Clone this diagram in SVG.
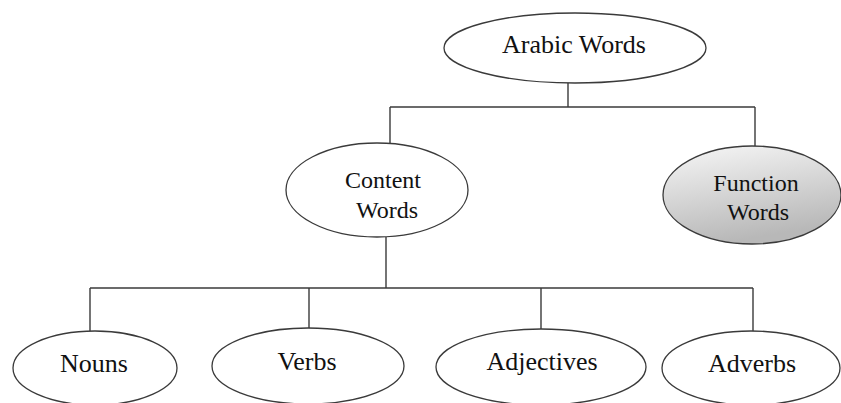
<svg xmlns="http://www.w3.org/2000/svg" width="841" height="403" viewBox="0 0 841 403">
  <style>
    .node ellipse { fill: #ffffff; stroke: #3a3a3a; stroke-width: 1.3; }
    .node text { font-family: "Liberation Serif", "Times New Roman", serif; fill: #111111; text-anchor: middle; }
    .big { font-size: 26px; }
    .mid { font-size: 24px; }
    .connectors line { stroke: #3a3a3a; stroke-width: 1.4; fill: none; }
  </style>
  <defs>
    <linearGradient id="grayFill" x1="0" y1="0" x2="0.3" y2="1">
      <stop offset="0" stop-color="#f7f7f7"/>
      <stop offset="1" stop-color="#b8b8b8"/>
    </linearGradient>
  </defs>
  <rect width="841" height="403" fill="#ffffff"/>

  <g class="connectors">
    <line x1="568" y1="83" x2="568" y2="107"/>
    <line x1="390" y1="107" x2="755" y2="107"/>
    <line x1="390" y1="107" x2="390" y2="144"/>
    <line x1="755" y1="107" x2="755" y2="146"/>
    <line x1="386" y1="237" x2="386" y2="288"/>
    <line x1="90" y1="288" x2="753" y2="288"/>
    <line x1="90" y1="288" x2="90" y2="331"/>
    <line x1="309" y1="288" x2="309" y2="328"/>
    <line x1="541" y1="288" x2="541" y2="329"/>
    <line x1="753" y1="288" x2="753" y2="331"/>
  </g>

  <g id="arabic-words" class="node">
    <ellipse cx="575" cy="48" rx="131" ry="35"/>
    <text class="big" x="574" y="53">Arabic Words</text>
  </g>

  <g id="content-words" class="node">
    <ellipse cx="377" cy="190" rx="91" ry="47"/>
    <text class="mid" x="383" y="188">Content</text>
    <text class="mid" x="387" y="218">Words</text>
  </g>

  <g id="function-words" class="node">
    <ellipse cx="752" cy="195" rx="89" ry="49" style="fill:url(#grayFill)"/>
    <text class="mid" x="756" y="191">Function</text>
    <text class="mid" x="758" y="220">Words</text>
  </g>

  <g id="nouns" class="node">
    <ellipse cx="95" cy="368" rx="82" ry="37"/>
    <text class="big" x="94" y="372">Nouns</text>
  </g>

  <g id="verbs" class="node">
    <ellipse cx="308" cy="366" rx="96" ry="38"/>
    <text class="big" x="307" y="370">Verbs</text>
  </g>

  <g id="adjectives" class="node">
    <ellipse cx="541" cy="367" rx="105" ry="38"/>
    <text class="big" x="542" y="370">Adjectives</text>
  </g>

  <g id="adverbs" class="node">
    <ellipse cx="751" cy="368" rx="89" ry="37"/>
    <text class="big" x="752" y="372">Adverbs</text>
  </g>
</svg>
